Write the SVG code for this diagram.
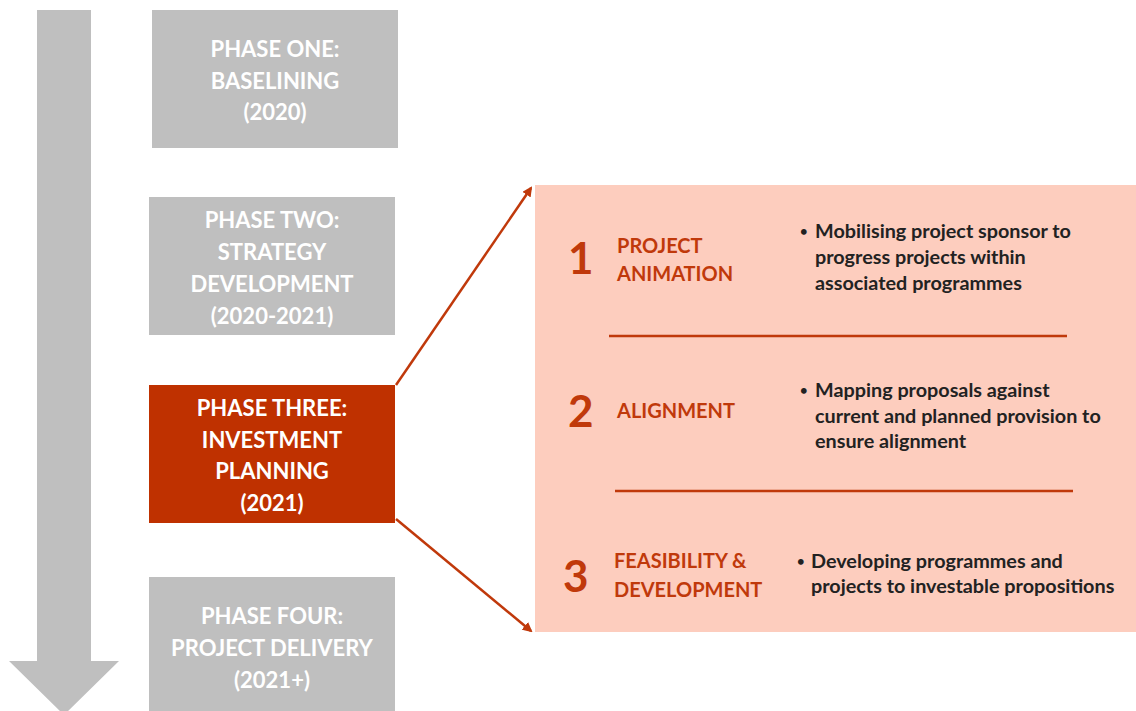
<svg xmlns="http://www.w3.org/2000/svg" width="1136" height="711" viewBox="0 0 1136 711">
<defs>
<style>
.grey{fill:#BFBFBF}
.ptxt{font-family:Lato,"Open Sans",sans-serif;font-weight:bold;font-size:22px;fill:#FFFFFF;text-anchor:middle}
.num{font-family:Lato,"Open Sans",sans-serif;font-weight:bold;font-size:44px;fill:#C0390B}
.lbl{font-family:Lato,"Open Sans",sans-serif;font-weight:bold;font-size:20px;fill:#C0390B}
.body{font-family:Lato,"Open Sans",sans-serif;font-weight:bold;font-size:19.8px;fill:#222222}
.bul{font-family:Lato,"Open Sans",sans-serif;font-weight:bold;font-size:13px;fill:#222222}
.conn{stroke:#C0390B;stroke-width:2.5;fill:none}
.sep{stroke:#C0390B;stroke-width:2.5}
</style>
<marker id="ah" markerWidth="10" markerHeight="10" refX="8" refY="5" orient="auto" markerUnits="userSpaceOnUse">
<path d="M0,0 L10,5 L0,10 z" fill="#C0390B"/>
</marker>
</defs>
<rect width="1136" height="711" fill="#FFFFFF"/>
<g id="timeline-arrow">
<path d="M37,10 H91 V661 H119 L64,715 L9,661 H37 Z" fill="#BFBFBF"/>
</g>
<g id="phase1">
<rect x="152" y="10" width="246" height="138" class="grey"/>
<text class="ptxt" x="275" y="57">PHASE ONE:</text>
<text class="ptxt" x="275" y="89">BASELINING</text>
<text class="ptxt" x="275" y="120">(2020)</text>
</g>
<g id="phase2">
<rect x="149" y="197" width="246" height="138" class="grey"/>
<text class="ptxt" x="272" y="228">PHASE TWO:</text>
<text class="ptxt" x="272" y="260">STRATEGY</text>
<text class="ptxt" x="272" y="292">DEVELOPMENT</text>
<text class="ptxt" x="272" y="324">(2020-2021)</text>
</g>
<g id="phase3">
<rect x="149" y="385" width="246" height="138" fill="#BF3100"/>
<text class="ptxt" x="272" y="416">PHASE THREE:</text>
<text class="ptxt" x="272" y="448">INVESTMENT</text>
<text class="ptxt" x="272" y="479">PLANNING</text>
<text class="ptxt" x="272" y="511">(2021)</text>
</g>
<g id="phase4">
<rect x="149" y="577" width="246" height="140" class="grey"/>
<text class="ptxt" x="272" y="624">PHASE FOUR:</text>
<text class="ptxt" x="272" y="656">PROJECT DELIVERY</text>
<text class="ptxt" x="272" y="688">(2021+)</text>
</g>
<g id="detail-panel">
<rect x="535" y="185" width="601" height="447" fill="#FDCDBE"/>
<line class="sep" x1="609" y1="336" x2="1067" y2="336"/>
<line class="sep" x1="615" y1="491" x2="1073" y2="491"/>
</g>
<g id="step1">
<text class="num" x="568" y="274">1</text>
<text class="lbl" x="617" y="253">PROJECT</text>
<text class="lbl" x="617" y="281">ANIMATION</text>
<text class="bul" x="800" y="236">•</text>
<text class="body" x="815" y="238">Mobilising project sponsor to</text>
<text class="body" x="815" y="264">progress projects within</text>
<text class="body" x="815" y="290">associated programmes</text>
</g>
<g id="step2">
<text class="num" x="568" y="427">2</text>
<text class="lbl" x="617" y="418">ALIGNMENT</text>
<text class="bul" x="800" y="395">•</text>
<text class="body" x="815" y="397">Mapping proposals against</text>
<text class="body" x="815" y="423">current and planned provision to</text>
<text class="body" x="815" y="448">ensure alignment</text>
</g>
<g id="step3">
<text class="num" x="563" y="592">3</text>
<text class="lbl" x="614" y="568">FEASIBILITY &amp;</text>
<text class="lbl" x="614" y="597">DEVELOPMENT</text>
<text class="bul" x="797" y="566">•</text>
<text class="body" x="811" y="568">Developing programmes and</text>
<text class="body" x="811" y="593">projects to investable propositions</text>
</g>
<g id="connectors">
<line class="conn" x1="396" y1="385" x2="531" y2="188" marker-end="url(#ah)"/>
<line class="conn" x1="396" y1="519" x2="531" y2="631" marker-end="url(#ah)"/>
</g>
</svg>
